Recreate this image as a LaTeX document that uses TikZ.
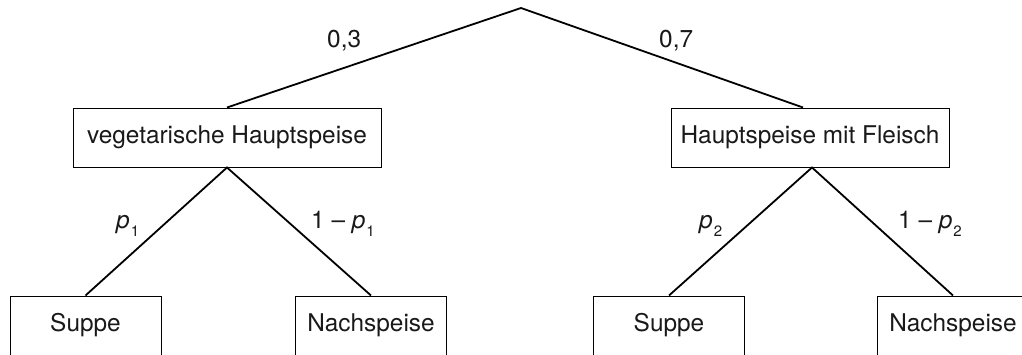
\documentclass[tikz,border=0pt]{standalone}
\usepackage{fontspec}
\setmainfont{TeX Gyre Heros}
\newcommand{\psub}[1]{\textit{p}\kern1pt\raisebox{-8pt}{\fontsize{15}{15}\selectfont #1}}
\tikzset{
  box/.style={draw=black, line width=1pt, inner sep=0pt, minimum height=59pt},
  conn/.style={draw=black, line width=1.8pt},
  lbl/.style={anchor=base west, inner sep=0pt, text=black!90}
}
\begin{document}
\begin{tikzpicture}[x=1pt,y=-1pt, font=\fontsize{24.4}{28}\selectfont]
\useasboundingbox (0,0) rectangle (1022,354);
\clip (0,0) rectangle (1022,354);
\coordinate (root) at (521,8);
\node[box, minimum width=308pt, text=black!90] (A) at (227,137.5) {vegetarische Hauptspeise};
\node[box, minimum width=278pt, text=black!90] (B) at (810,137.5) {Hauptspeise mit Fleisch};
\node[box, minimum width=151pt, text=black!90] (C1) at (85.5,325.5) {Suppe};
\node[box, minimum width=151pt, text=black!90] (C2) at (371,325.5) {Nachspeise};
\node[box, minimum width=151pt, text=black!90] (C3) at (669,325.5) {Suppe};
\node[box, minimum width=151pt, text=black!90] (C4) at (953,325.5) {Nachspeise};
\draw[conn] (A.north) -- (root) -- ([xshift=-7pt]B.north);
\draw[conn] (C1.north) -- (A.south) -- (C2.north);
\draw[conn] (C3.north) -- ([xshift=2pt]B.south) -- (C4.north);
\node[lbl] (l03) at (327,47) {0,3};
\node[lbl] (l07) at (659,47) {0,7};
\node[lbl] (lp1) at (116,228) {\psub{1}};
\node[lbl] (lq1) at (311,228) {1 – \psub{1}};
\node[lbl] (lp2) at (699,228) {\psub{2}};
\node[lbl] (lq2) at (898,228) {1 – \psub{2}};
\end{tikzpicture}
\end{document}
